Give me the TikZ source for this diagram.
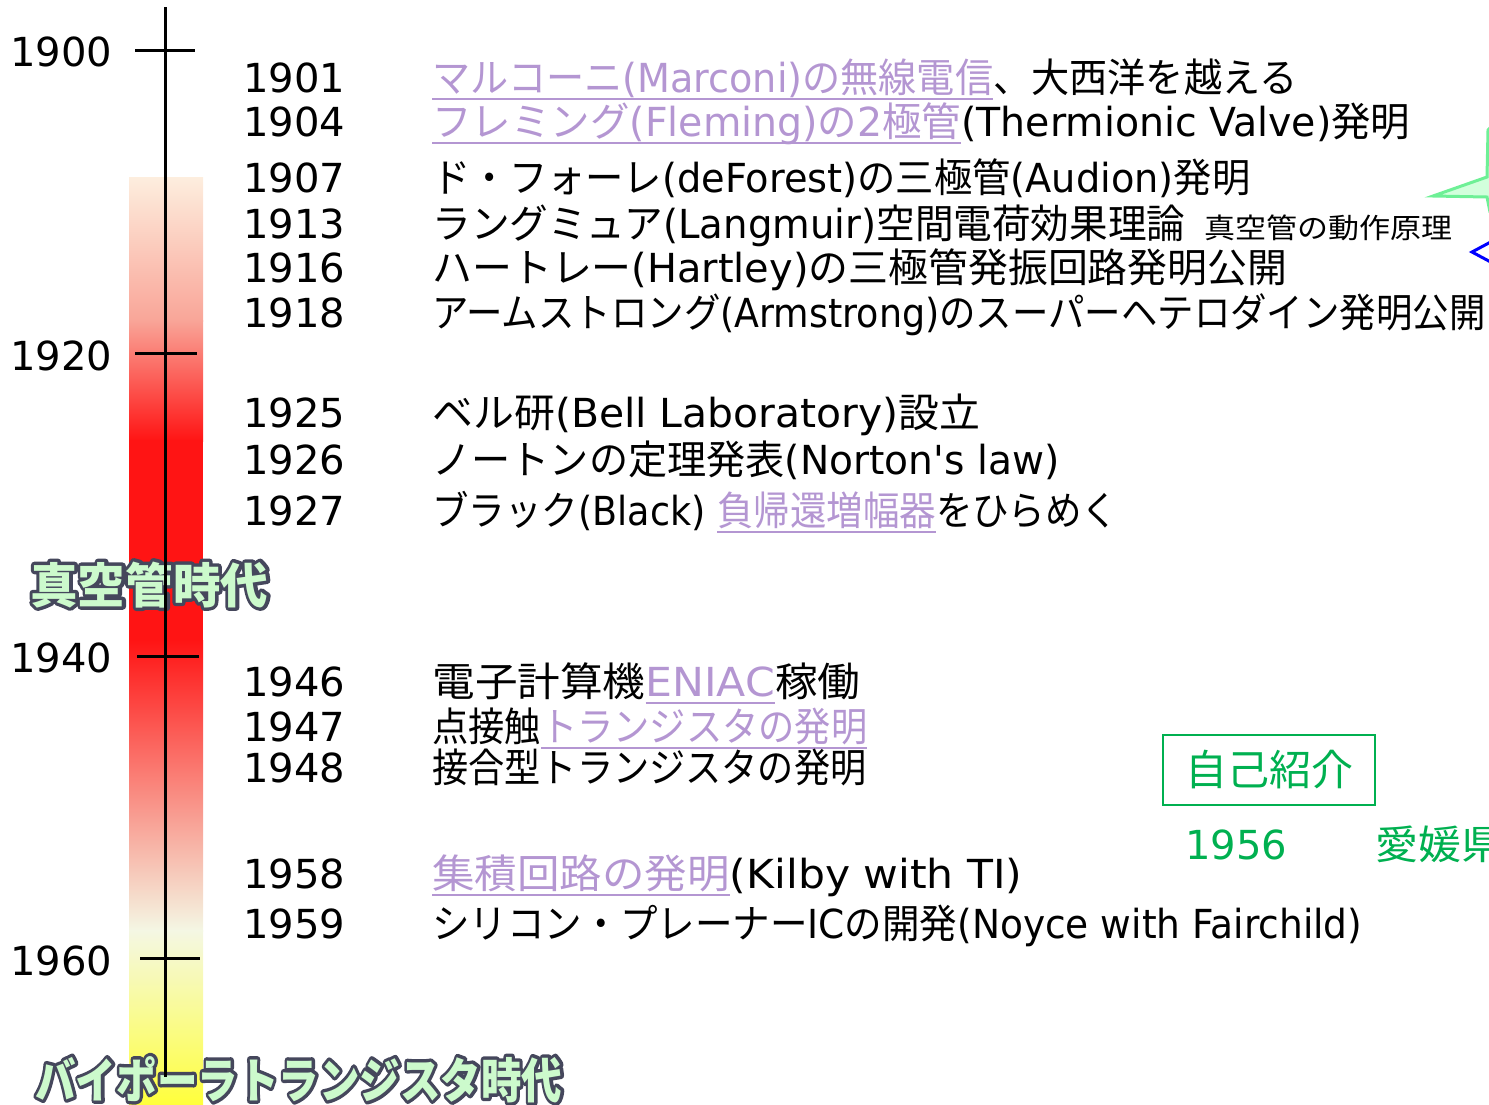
\documentclass[tikz,border=0pt]{standalone}
\usepackage{fontspec}
\usepackage{graphicx}
\setmainfont{DejaVu Sans}
\newfontfamily\jpfont{Noto Sans CJK JP}
\newfontfamily\enfont{DejaVu Sans}
% kana and kanji switch to the CJK font by themselves
\XeTeXinterchartokenstate=1
\newXeTeXintercharclass\jpclass
\newcount\jpcode
\jpcode="3000
\loop
  \XeTeXcharclass\jpcode=\jpclass
  \advance\jpcode by 1
\ifnum\jpcode<"A000 \repeat
\XeTeXinterchartoks 0 \jpclass = {\jpfont}
\XeTeXinterchartoks 4095 \jpclass = {\jpfont}
\XeTeXinterchartoks \jpclass 0 = {\enfont}
\XeTeXinterchartoks 4095 0 = {\enfont}

\definecolor{lnkcol}{RGB}{180,150,210}
\definecolor{grncol}{RGB}{0,176,80}
\definecolor{lblfill}{RGB}{204,250,204}
\definecolor{barpeach}{RGB}{253,238,222}
\definecolor{barpink}{RGB}{249,165,152}
\definecolor{barred}{RGB}{255,20,20}
\definecolor{barpale}{RGB}{244,247,228}
\definecolor{baryel}{RGB}{255,255,60}
\definecolor{starfill}{RGB}{210,255,220}
\definecolor{starline}{RGB}{110,240,150}

\newdimen\pxu \pxu=0.5pt
\newcommand{\fitw}[2]{\resizebox{#1\pxu}{\height}{#2}}
\newsavebox\lnkbox
\newcommand{\lnk}[1]{\sbox\lnkbox{\color{lnkcol}#1}\rlap{\color{lnkcol}\rule[-0.2em]{\wd\lnkbox}{0.04em}}\usebox\lnkbox}
% dark stroked letters under the filled ones
\newcommand{\outl}[1]{\rlap{\special{pdf:literal direct 1 Tr 3.4 w 1 j 0.27 0.28 0.36 RG}#1\special{pdf:literal direct 0 Tr}}#1}

\tikzset{yr/.style={anchor=base west,inner sep=0pt,font=\fontsize{20}{24}\selectfont}}
\tikzset{evt/.style={anchor=base west,inner sep=0pt,font=\fontsize{20}{24}\selectfont}}
\tikzset{note/.style={anchor=base west,inner sep=0pt,font=\fontsize{14}{16}\selectfont}}
\tikzset{tick/.style={line width=1.5pt}}
\tikzset{era/.style={anchor=base west,inner sep=0pt,text=lblfill,font=\bfseries\fontsize{24}{28}\selectfont}}
\tikzset{selfbox/.style={draw=grncol,text=grncol,line width=1.25pt,minimum width=106pt,minimum height=35pt,inner sep=0pt,font=\fontsize{21}{24}\selectfont}}

\begin{document}
\begin{tikzpicture}[x=0.5pt,y=-0.5pt]
\useasboundingbox (0,0) rectangle (1489,1104);
\clip (0,0) rectangle (1489,1104);

% era bar
\shade[top color=barpeach,bottom color=barpink] (129,177) rectangle (203,321);
\shade[top color=barpink,bottom color=barred] (129,320) rectangle (203,441);
\fill[barred] (129,440) rectangle (203,641);
\shade[top color=barred,bottom color=barpale] (129,640) rectangle (203,931);
\shade[top color=barpale,bottom color=baryel] (129,930) rectangle (203,1104);

\node[era] (vac) at (30,603) {\fitw{238}{\outl{真空管時代}}};
\node[era] (bip) at (35,1098) {\fitw{527}{\outl{バイポーラトランジスタ時代}}};

% time axis
\coordinate (axtop) at (165,7);
\coordinate (axbot) at (165,1077);
\draw[tick] (axtop) -- (axbot);

\coordinate (k1900a) at (135,50);
\coordinate (k1900b) at (195,50);
\coordinate (k1920a) at (135,353);
\coordinate (k1920b) at (197,353);
\coordinate (k1940a) at (137,656);
\coordinate (k1940b) at (199,656);
\coordinate (k1960a) at (140,958);
\coordinate (k1960b) at (200,958);
\draw[tick] (k1900a) -- (k1900b);
\draw[tick] (k1920a) -- (k1920b);
\draw[tick] (k1940a) -- (k1940b);
\draw[tick] (k1960a) -- (k1960b);

\node[yr] (d1900) at (10,66) {\fitw{102}{1900}};
\node[yr] (d1920) at (10,370) {\fitw{102}{1920}};
\node[yr] (d1940) at (10,672) {\fitw{102}{1940}};
\node[yr] (d1960) at (10,975) {\fitw{102}{1960}};

% events
\node[yr] (y1901) at (243,92) {\fitw{102}{1901}};
\node[yr] (y1904) at (243,136) {\fitw{102}{1904}};
\node[yr] (y1907) at (243,192) {\fitw{102}{1907}};
\node[yr] (y1913) at (243,238) {\fitw{102}{1913}};
\node[yr] (y1916) at (243,282) {\fitw{102}{1916}};
\node[yr] (y1918) at (243,327) {\fitw{102}{1918}};
\node[yr] (y1925) at (243,427) {\fitw{102}{1925}};
\node[yr] (y1926) at (243,474) {\fitw{102}{1926}};
\node[yr] (y1927) at (243,525) {\fitw{102}{1927}};
\node[yr] (y1946) at (243,696) {\fitw{102}{1946}};
\node[yr] (y1947) at (243,741) {\fitw{102}{1947}};
\node[yr] (y1948) at (243,782) {\fitw{102}{1948}};
\node[yr] (y1958) at (243,888) {\fitw{102}{1958}};
\node[yr] (y1959) at (243,938) {\fitw{102}{1959}};

\node[evt] (e1901) at (432,92) {\fitw{865}{\lnk{マルコーニ(Marconi)の無線電信}、大西洋を越える}};
\node[evt] (e1904) at (432,136) {\fitw{978}{\lnk{フレミング(Fleming)の2極管}(Thermionic Valve)発明}};
\node[evt] (e1907) at (432,192) {\fitw{818}{ド・フォーレ(deForest)の三極管(Audion)発明}};
\node[evt] (e1913) at (432,238) {\fitw{753}{ラングミュア(Langmuir)空間電荷効果理論}};
\node[note] (n1913) at (1204,238) {\fitw{248}{真空管の動作原理}};
\node[evt] (e1916) at (432,282) {\fitw{855}{ハートレー(Hartley)の三極管発振回路発明公開}};
\node[evt] (e1918) at (432,327) {\fitw{1053}{アームストロング(Armstrong)のスーパーヘテロダイン発明公開}};
\node[evt] (e1925) at (432,427) {\fitw{548}{ベル研(Bell Laboratory)設立}};
\node[evt] (e1926) at (432,474) {\fitw{627}{ノートンの定理発表(Norton\textquotesingle s law)}};
\node[evt] (e1927) at (432,525) {\fitw{686}{ブラック(Black) \lnk{負帰還増幅器}をひらめく}};
\node[evt] (e1946) at (432,696) {\fitw{428}{電子計算機\lnk{ENIAC}稼働}};
\node[evt] (e1947) at (432,741) {\fitw{435}{点接触\lnk{トランジスタの発明}}};
\node[evt] (e1948) at (432,782) {\fitw{434}{接合型トランジスタの発明}};
\node[evt] (e1958) at (432,888) {\fitw{590}{\lnk{集積回路の発明}(Kilby with TI)}};
\node[evt] (e1959) at (432,938) {\fitw{930}{シリコン・プレーナーICの開発(Noyce with Fairchild)}};

% self introduction
\node[selfbox] (self) at (1269,770) {自己紹介};
\node[yr,text=grncol] (y1956) at (1185,859) {\fitw{102}{1956}};
\node[evt,text=grncol] (ehime) at (1375,859) {\fitw{129}{愛媛県}};

% shapes cut by the right edge
\draw[starline,fill=starfill,line width=1.5pt] (1500,118) -- (1488,130) -- (1487,177) -- (1433,196) -- (1487,197) -- (1490,212) -- (1500,222);
\draw[blue,fill=white,line width=1.5pt] (1500,237) -- (1472,252) -- (1500,267);
\end{tikzpicture}
\end{document}
